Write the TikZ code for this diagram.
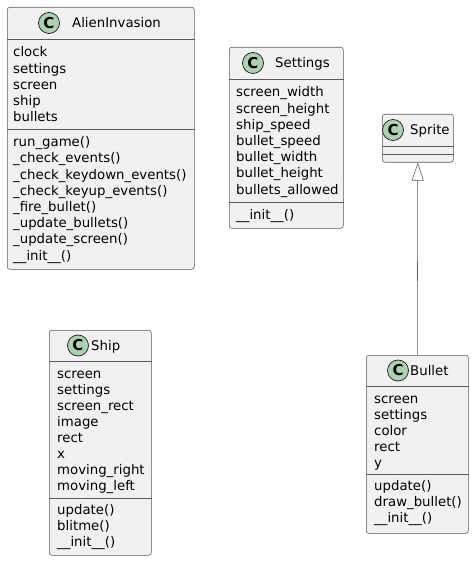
\documentclass[tikz,border=0pt]{standalone}
\usepackage{fontspec}
\setmainfont{DejaVu Sans}
\usetikzlibrary{arrows.meta}
\definecolor{boxfill}{HTML}{F1F1F1}
\definecolor{boxline}{HTML}{181818}
\definecolor{sepcolor}{HTML}{5A5A5A}
\definecolor{badgefill}{HTML}{ADD1B2}
\tikzset{
  classbox/.style={draw=sepcolor, fill=boxfill, line width=0.55pt, rounded corners=2.5pt, anchor=north west, inner sep=0pt},
  sepline/.style={draw=sepcolor, line width=0.5pt},
  badge/.style={circle, draw=boxline, fill=badgefill, line width=0.7pt, minimum size=21pt, inner sep=0pt, font=\fontsize{15}{15}\selectfont\bfseries},
  titletext/.style={anchor=base west, inner sep=0pt, font=\fontsize{13.3}{16}\selectfont},
  membertext/.style={anchor=base west, inner sep=0pt, font=\fontsize{13.3}{16}\selectfont, text=black},
  extends/.style={draw=sepcolor, line width=0.55pt, -{Triangle[open, length=18pt, width=12pt, fill=white]}}
}
\begin{document}
\begin{tikzpicture}[x=1pt, y=-1pt]
\useasboundingbox (0,0) rectangle (474,564);

% ---------------- AlienInvasion ----------------
\node[classbox, minimum width=187pt, minimum height=262pt] (alien) at (7,7) {};
\draw[sepline] (alien.west |- 0,39) -- (alien.east |- 0,39);
\draw[sepline] (alien.west |- 0,129) -- (alien.east |- 0,129);
\node[badge] (alienC) at (49,23) {C};
\node[titletext] (alienT) at (72,28) {AlienInvasion};
\foreach \t [count=\i from 0] in {clock,settings,screen,ship,bullets}
  \node[membertext] (alienA\i) at (13,57+16.2*\i) {\t};
\foreach \t [count=\i from 0] in {run\_game(),\_check\_events(),\_check\_keydown\_events(),\_check\_keyup\_events(),\_fire\_bullet(),\_update\_bullets(),\_update\_screen(),\_\_init\_\_()}
  \node[membertext] (alienM\i) at (13,146.7+16.2*\i) {\t};

% ---------------- Settings ----------------
\node[classbox, minimum width=114pt, minimum height=181pt] (settings) at (229,47) {};
\draw[sepline] (settings.west |- 0,79) -- (settings.east |- 0,79);
\draw[sepline] (settings.west |- 0,202) -- (settings.east |- 0,202);
\node[badge] (settingsC) at (253,63) {C};
\node[titletext] (settingsT) at (275,68) {Settings};
\foreach \t [count=\i from 0] in {screen\_width,screen\_height,ship\_speed,bullet\_speed,bullet\_width,bullet\_height,bullets\_allowed}
  \node[membertext] (settingsA\i) at (236,97+16.2*\i) {\t};
\node[membertext] (settingsM0) at (236,219.5) {\_\_init\_\_()};

% ---------------- Sprite ----------------
\node[classbox, minimum width=71pt, minimum height=48pt] (sprite) at (382,114) {};
\draw[sepline] (sprite.west |- 0,146) -- (sprite.east |- 0,146);
\draw[sepline] (sprite.west |- 0,154) -- (sprite.east |- 0,154);
\node[badge] (spriteC) at (393,130) {C};
\node[titletext] (spriteT) at (410,135) {Sprite};

% ---------------- Ship ----------------
\node[classbox, minimum width=102pt, minimum height=225pt] (ship) at (49,330) {};
\draw[sepline] (ship.west |- 0,361) -- (ship.east |- 0,361);
\draw[sepline] (ship.west |- 0,498) -- (ship.east |- 0,498);
\node[badge] (shipC) at (78,345.5) {C};
\node[titletext] (shipT) at (91,350.5) {Ship};
\foreach \t [count=\i from 0] in {screen,settings,screen\_rect,image,rect,x,moving\_right,moving\_left}
  \node[membertext] (shipA\i) at (57,378+16*\i) {\t};
\foreach \t [count=\i from 0] in {update(),blitme(),\_\_init\_\_()}
  \node[membertext] (shipM\i) at (57,514.7+16*\i) {\t};

% ---------------- Bullet ----------------
\node[classbox, minimum width=102pt, minimum height=178pt] (bullet) at (366,355) {};
\draw[sepline] (bullet.west |- 0,386) -- (bullet.east |- 0,386);
\draw[sepline] (bullet.west |- 0,474) -- (bullet.east |- 0,474);
\node[badge] (bulletC) at (398,370.5) {C};
\node[titletext] (bulletT) at (410,375.5) {Bullet};
\foreach \t [count=\i from 0] in {screen,settings,color,rect,y}
  \node[membertext] (bulletA\i) at (374,403+16*\i) {\t};
\foreach \t [count=\i from 0] in {update(),draw\_bullet(),\_\_init\_\_()}
  \node[membertext] (bulletM\i) at (374,490.5+16*\i) {\t};

% ---------------- Inheritance ----------------
\draw[extends] (bullet.north) -- (sprite.south);
\end{tikzpicture}
\end{document}
